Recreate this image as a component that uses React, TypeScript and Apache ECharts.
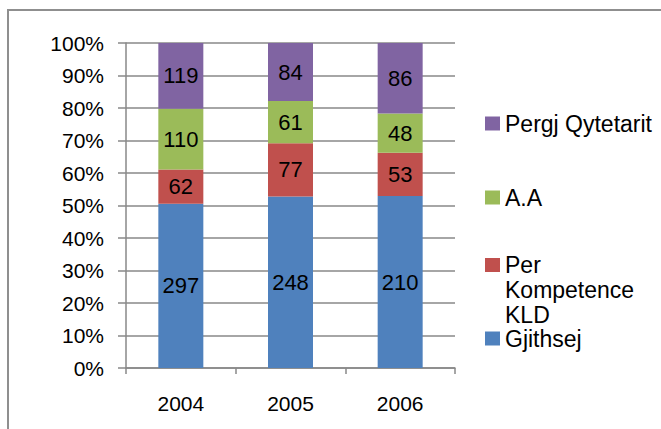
import React, { useEffect, useRef } from "react";
import * as echarts from "echarts";

const categories = ["2004", "2005", "2006"];
const gjithsej = [297, 248, 210];
const perKompetence = [62, 77, 53];
const aa = [110, 61, 48];
const pergjQytetarit = [119, 84, 86];
const yTicks = [0, 10, 20, 30, 40, 50, 60, 70, 80, 90, 100];

const seriesDefs = [
  { name: "Gjithsej", values: gjithsej, color: "#4F81BD" },
  { name: "Per Kompetence KLD", values: perKompetence, color: "#C0504D" },
  { name: "A.A", values: aa, color: "#9BBB59" },
  { name: "Pergj Qytetarit", values: pergjQytetarit, color: "#8064A2" },
];

const totals = categories.map((_, i) =>
  seriesDefs.reduce((s, d) => s + d.values[i], 0)
);

const FONT = "Liberation Sans, Arial, sans-serif";

export default function App() {
  const ref = useRef<HTMLDivElement>(null);
  useEffect(() => {
    document.body.style.margin = "0";
    const chart = echarts.init(ref.current!, null, { renderer: "svg" });
    const legendTop: Record<string, number> = {
      "Pergj Qytetarit": 119 - 7,
      "A.A": 193 - 7,
      "Per Kompetence KLD": 265 - 62.5,
      Gjithsej: 334 - 7,
    };
    chart.setOption({
      animation: false,
      backgroundColor: "#ffffff",
      textStyle: { fontFamily: FONT },
      graphic: [
        {
          type: "rect",
          shape: { x: 8, y: 10, width: 700, height: 460 },
          style: { fill: "none", stroke: "#8f8f8f", lineWidth: 2 },
          silent: true,
        },
      ],
      grid: { left: 126, right: 206, top: 43, bottom: 61 },
      legend: seriesDefs.map((d) => ({
        data: [d.name],
        orient: "vertical",
        left: 485,
        top: legendTop[d.name],
        padding: 0,
        itemWidth: 15,
        itemHeight: 14,
        icon: "rect",
        selectedMode: false,
        formatter: (n: string) =>
          n === "Per Kompetence KLD" ? "\n\nPer\nKompetence\nKLD" : n,
        textStyle:
          d.name === "Per Kompetence KLD"
            ? { fontSize: 23, color: "#000", fontFamily: FONT, lineHeight: 25 }
            : { fontSize: 23, color: "#000", fontFamily: FONT },
      })),
      xAxis: {
        type: "category",
        data: categories,
        axisLine: { show: true, lineStyle: { color: "#888", width: 1.5 } },
        axisTick: { show: true, length: 6, interval: 0, lineStyle: { color: "#888", width: 1.5 } },
        axisLabel: { fontSize: 21, color: "#000", margin: 25, fontFamily: FONT },
      },
      yAxis: {
        type: "value",
        min: yTicks[0],
        max: yTicks[yTicks.length - 1],
        interval: 10,
        axisLine: { show: true, lineStyle: { color: "#888", width: 1.5 } },
        axisTick: { show: true, length: 8, inside: false, lineStyle: { color: "#888", width: 1.5 } },
        splitLine: { show: true, lineStyle: { color: "#888", width: 1.5 } },
        axisLabel: {
          fontSize: 21,
          color: "#000",
          margin: 22,
          fontFamily: FONT,
          formatter: "{value}%",
        },
      },
      series: seriesDefs.map((d) => ({
        name: d.name,
        type: "bar",
        stack: "total",
        barWidth: 45,
        itemStyle: { color: d.color },
        data: d.values.map((v, i) => (v / totals[i]) * 100),
        label: {
          show: true,
          position: "inside",
          color: "#000",
          fontSize: 22,
          fontFamily: FONT,
          formatter: (p: any) => String(d.values[p.dataIndex]),
        },
      })),
    });
    return () => chart.dispose();
  }, []);
  return <div ref={ref} style={{ width: 661, height: 429 }} />;
}
